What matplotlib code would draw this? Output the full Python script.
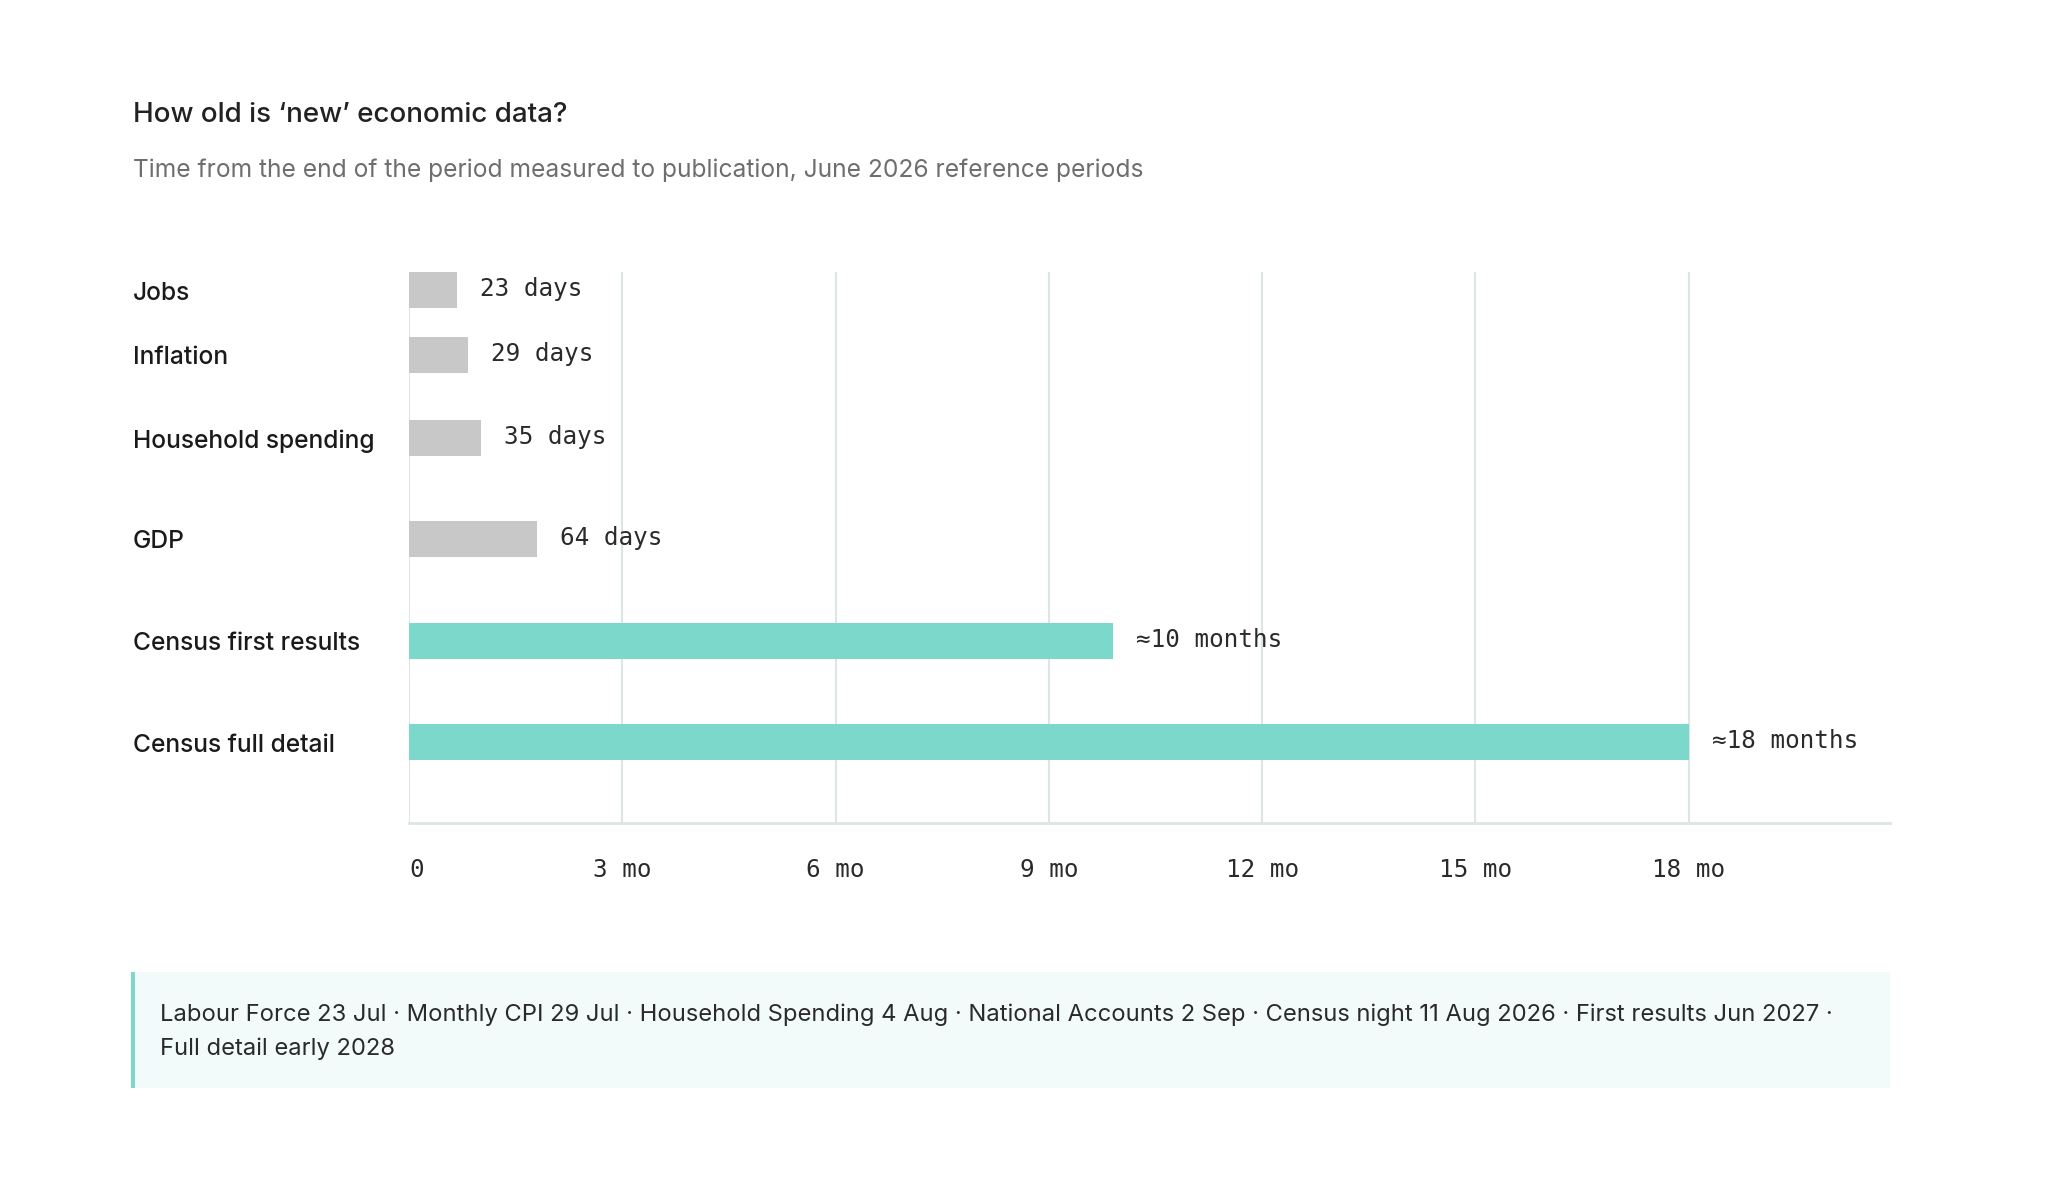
import matplotlib
matplotlib.use("Agg")
import matplotlib.pyplot as plt
from matplotlib.patches import Rectangle
from matplotlib.transforms import blended_transform_factory

# data
categories = ["Jobs", "Inflation", "Household spending", "GDP",
              "Census first results", "Census full detail"]
# bar lengths in months, as drawn
bar_months = [0.68, 0.83, 1.01, 1.80, 9.9, 18.0]
value_labels = ["23 days", "29 days", "35 days", "64 days",
                "\u224810 months", "\u224818 months"]
is_census = [False, False, False, False, True, True]
tick_months = [0, 3, 6, 9, 12, 15, 18]
tick_labels = ["0", "3 mo", "6 mo", "9 mo", "12 mo", "15 mo", "18 mo"]

title = "How old is \u2018new\u2019 economic data?"
subtitle = ("Time from the end of the period measured to publication, "
            "June 2026 reference periods")
footnote = ("Labour Force 23 Jul \u00b7 Monthly CPI 29 Jul \u00b7 Household Spending 4 Aug "
            "\u00b7 National Accounts 2 Sep \u00b7 Census night 11 Aug 2026 \u00b7 "
            "First results Jun 2027 \u00b7\nFull detail early 2028")

# layout (pixels on a 2058 x 1192 canvas)
W, H = 2058, 1192
ROW_Y = [290, 355, 438, 539, 641, 742]   # row centres, px from top
BAR_H = 36
PLOT_TOP, PLOT_BOTTOM = 272, 823
PLOT_LEFT, PLOT_RIGHT = 409, 1890
X_MAX = 20.83

GREY = "#c8c8c8"
TEAL = "#7bd8ca"
GRID = "#dde5e5"
SANS = ["Inter", "DejaVu Sans"]
MONO = ["DejaVu Sans Mono"]

fig = plt.figure(figsize=(W / 100, H / 100), dpi=100)
ax = fig.add_axes([PLOT_LEFT / W, 1 - PLOT_BOTTOM / H,
                   (PLOT_RIGHT - PLOT_LEFT) / W, (PLOT_BOTTOM - PLOT_TOP) / H])

colors = [TEAL if c else GREY for c in is_census]
ax.barh(ROW_Y, bar_months, height=BAR_H, color=colors, zorder=2)

for y, v, lab in zip(ROW_Y, bar_months, value_labels):
    ax.annotate(lab, xy=(v, y), xytext=(16.5, 0.5), textcoords="offset points",
                ha="left", va="center", family=MONO, fontsize=17.5,
                color="#2a2a2a")

ax.set_xlim(0, X_MAX)
ax.set_ylim(PLOT_BOTTOM, PLOT_TOP)

ax.set_xticks(tick_months)
ax.set_xticklabels(tick_labels, family=MONO, fontsize=17.5, color="#2a2a2a")
ax.get_xticklabels()[0].set_ha("left")
ax.tick_params(axis="x", length=0, pad=25.5)
ax.set_yticks([])
ax.grid(axis="x", color=GRID, linewidth=1.5, zorder=0)

for side in ["top", "right", "left"]:
    ax.spines[side].set_visible(False)
ax.spines["bottom"].set_color(GRID)
ax.spines["bottom"].set_linewidth(2)

# category labels, left aligned with the title
trans = blended_transform_factory(fig.transFigure, ax.transData)
for y, cat in zip(ROW_Y, categories):
    ax.text(133 / W, y + 3, cat, transform=trans, ha="left", va="center",
            family=SANS, fontsize=17.7, fontweight="medium", color="#1a1a1a")

fig.text(133 / W, 1 - 115 / H, title, ha="left", va="center",
         family=SANS, fontsize=20, fontweight="medium", color="#222222")
fig.text(133 / W, 1 - 170 / H, subtitle, ha="left", va="center",
         family=SANS, fontsize=17.7, color="#6e6e6e")

# footnote box
fig.patches.append(Rectangle((131 / W, 1 - 1088 / H), (1890 - 131) / W, 116 / H,
                             transform=fig.transFigure, facecolor="#f2fbf9",
                             edgecolor="none", zorder=0))
fig.patches.append(Rectangle((131 / W, 1 - 1088 / H), 4 / W, 116 / H,
                             transform=fig.transFigure, facecolor=TEAL,
                             edgecolor="none", zorder=1))
fig.text(160 / W, 1 - 1003 / H, footnote, ha="left", va="top",
         family=SANS, fontsize=17.1, color="#2a2a2a", linespacing=1.68)

fig.savefig("out.png", dpi=100)
